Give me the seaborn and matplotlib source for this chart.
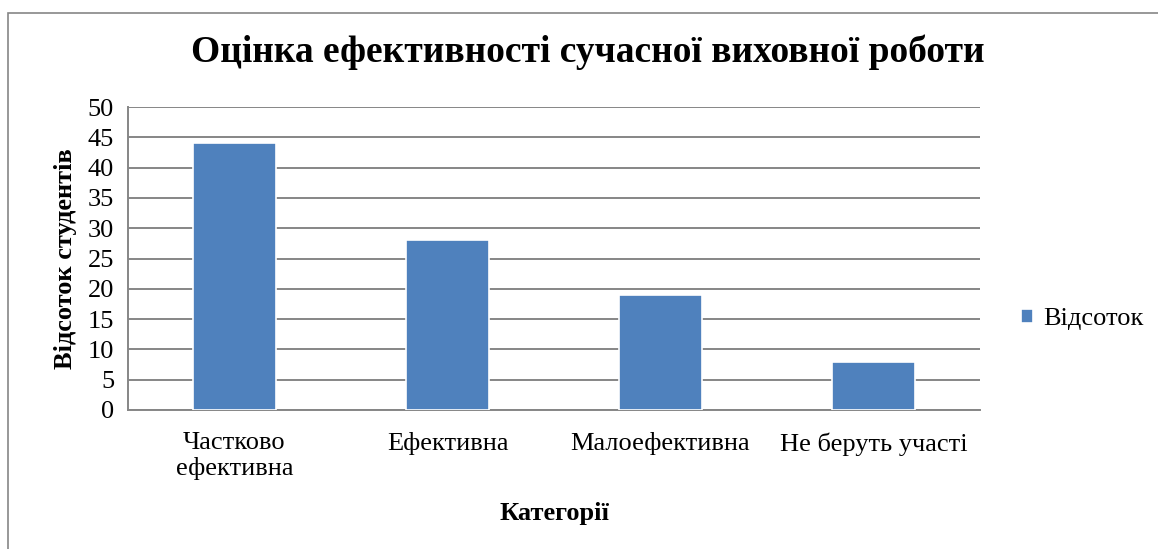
"""Bar chart: evaluation of modern educational work"""

import matplotlib.pyplot as plt
import pandas as pd
import seaborn as sns
from matplotlib.patches import Rectangle

categories = ["Частково\nефективна", "Ефективна", "Малоефективна", "Не беруть участі"]
percent = [44, 28, 19, 8]
series_name = "Відсоток"

title = "Оцінка ефективності сучасної виховної роботи"
x_label = "Категорії"
y_label = "Відсоток студентів"

df = pd.DataFrame({"category": categories, "value": percent, "series": series_name})

sns.set_style("white")
plt.rcParams["font.family"] = ["Liberation Serif", "DejaVu Serif"]
plt.rcParams["text.color"] = "black"
plt.rcParams["axes.labelcolor"] = "black"

fig = plt.figure(figsize=(11.58, 5.49), dpi=100)
ax = fig.add_axes([128 / 1158, 1 - 410 / 549, 852 / 1158, 303 / 549])

grid_color = "#868686"
sns.barplot(
    data=df,
    x="category",
    y="value",
    hue="series",
    palette=["#4F81BD"],
    saturation=1,
    width=0.39,
    edgecolor="white",
    linewidth=1.2,
    ax=ax,
    zorder=3,
    legend=True,
)

ax.set_ylim(0, 50)
ax.set_yticks(range(0, 51, 5))
ax.yaxis.grid(True, color=grid_color, linewidth=1.4, zorder=0)
ax.set_axisbelow(True)
for side in ["top", "right"]:
    ax.spines[side].set_visible(False)
for side in ["left", "bottom"]:
    ax.spines[side].set_color(grid_color)
    ax.spines[side].set_linewidth(1.4)
ax.tick_params(axis="both", length=0, labelsize=19, colors="black")
ax.tick_params(axis="y", pad=10)
ax.tick_params(axis="x", pad=16)
for lbl in ax.get_xticklabels():
    lbl.set_linespacing(1.15)

ax.set_xlabel(x_label, fontsize=19, fontweight="bold", labelpad=16)
ax.set_ylabel(y_label, fontsize=19, fontweight="bold", labelpad=8)
fig.text(0.508, 1 - 52 / 549, title, fontsize=27, fontweight="bold",
         ha="center", va="center")

ax.legend(
    loc="center left",
    bbox_to_anchor=(1.02, 0.3),
    frameon=False,
    fontsize=19,
    handlelength=0.45,
    handleheight=0.45,
    handletextpad=0.4,
)

# outer chart border
fig.patches.append(
    Rectangle((8 / 1158, -0.05), 1.2, 1 - 13 / 549 + 0.05,
              transform=fig.transFigure, fill=False,
              edgecolor=grid_color, linewidth=1.2)
)

plt.savefig("out.png", dpi=100)
plt.close()
